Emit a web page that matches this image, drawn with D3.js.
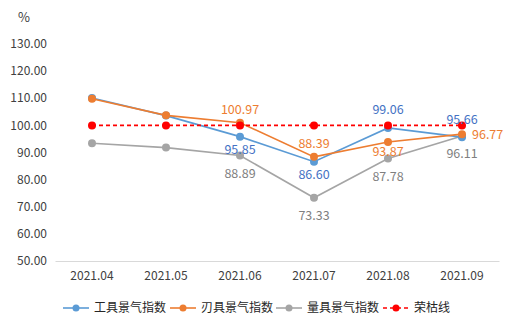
<!DOCTYPE html>
<html><head><meta charset="utf-8">
<script src="https://cdn.jsdelivr.net/npm/d3@7"></script>
<style>
html,body{margin:0;padding:0;background:#fff;}
svg{display:block;font-family:"Noto Sans CJK SC","Microsoft YaHei",sans-serif;}
</style></head>
<body>
<svg id="c" width="514" height="332"></svg>
<script>
const categories = ["2021.04","2021.05","2021.06","2021.07","2021.08","2021.09"];
const toolIndex  = [110.1, 103.6, 95.85, 86.60, 99.06, 95.66];
const bladeIndex = [109.8, 103.7, 100.97, 88.39, 93.87, 96.77];
const gaugeIndex = [93.4, 91.8, 88.89, 73.33, 87.78, 96.11];
const boomLine   = [100, 100, 100, 100, 100, 100];
const yTicks = [50,60,70,80,90,100,110,120,130];
const seriesNames = ["工具景气指数","刃具景气指数","量具景气指数","荣枯线"];
// label placement per point (null = no label)
const toolLabelPos  = [null, null, "below", "below", "above", "above"];
const bladeLabelPos = [null, null, "above", "above", "below", "right"];
const gaugeLabelPos = [null, null, "below", "below", "below", "below"];

const svg = d3.select("#c");
const x = d3.scaleBand().domain(categories).range([55, 499]);
const y = d3.scaleLinear().domain([50, 130]).range([261, 44]);
const cx = d => x(d) + x.bandwidth()/2;

// y tick labels
svg.append("g").selectAll("text").data(yTicks).join("text")
  .attr("x", 47).attr("y", d => y(d)).attr("dy", "0.35em")
  .attr("text-anchor", "end").attr("font-size", 12).attr("fill", "#404040")
  .text(d => d.toFixed(2));
svg.append("text").attr("x", 18).attr("y", 22).attr("font-size", 13).attr("fill", "#404040").text("%");

// x axis
const xAxis = d3.axisBottom(x).tickSize(0).tickPadding(10);
const gx = svg.append("g").attr("transform", `translate(0,${y(50)})`).call(xAxis);
gx.select(".domain").attr("stroke", "#d9d9d9");
gx.selectAll("text").attr("font-size", 12).attr("fill", "#404040")
  .attr("font-family", "'Noto Sans CJK SC',sans-serif");

const series = [
  {name: seriesNames[0], vals: toolIndex, color: "#5B9BD5", labelColor: "#4472C4", pos: toolLabelPos, dash: null, above: -18, below: 13},
  {name: seriesNames[1], vals: bladeIndex, color: "#ED7D31", labelColor: "#ED7D31", pos: bladeLabelPos, dash: null, above: -13, below: 10},
  {name: seriesNames[2], vals: gaugeIndex, color: "#A5A5A5", labelColor: "#7F7F7F", pos: gaugeLabelPos, dash: null, above: -13, below: 18},
  {name: seriesNames[3], vals: boomLine, color: "#FF0000", labelColor: null, pos: null, dash: "4,3"}
];
const drawOrder = [2, 0, 1, 3];
const line = d3.line().x(d => cx(d.c)).y(d => y(d.v));
drawOrder.forEach(i => {
  const s = series[i];
  const pts = categories.map((c, j) => ({c, v: s.vals[j]}));
  svg.append("path").datum(pts).attr("d", line).attr("fill", "none")
    .attr("stroke", s.color).attr("stroke-width", 1.6)
    .attr("stroke-dasharray", s.dash);
  svg.append("g").selectAll("circle").data(pts).join("circle")
    .attr("cx", d => cx(d.c)).attr("cy", d => y(d.v)).attr("r", 4)
    .attr("fill", s.color);
});
// labels
series.forEach(s => {
  if (!s.pos) return;
  categories.forEach((c, j) => {
    const p = s.pos[j];
    if (!p) return;
    let dx = 0, dy = 0, anchor = "middle";
    if (p === "above") dy = s.above;
    if (p === "below") dy = s.below;
    if (p === "right") { dx = 10; anchor = "start"; }
    svg.append("text").attr("x", cx(c) + dx).attr("y", y(s.vals[j]) + dy)
      .attr("dy", "0.35em").attr("text-anchor", anchor)
      .attr("font-size", 12.5).attr("fill", s.labelColor)
      .text(s.vals[j].toFixed(2));
  });
});

// legend
const legendX = [63, 170, 276, 383];
series.forEach((s, i) => {
  const g = svg.append("g").attr("transform", `translate(${legendX[i]},308)`);
  g.append("line").attr("x1", 0).attr("x2", 26).attr("y1", 0).attr("y2", 0)
    .attr("stroke", s.color).attr("stroke-width", 1.6).attr("stroke-dasharray", s.dash);
  g.append("circle").attr("cx", 13).attr("cy", 0).attr("r", 3.5).attr("fill", s.color);
  g.append("text").attr("x", 31).attr("y", 0).attr("dy", "0.35em")
    .attr("font-size", 12).attr("fill", "#262626").text(s.name);
});
</script>
</body></html>
